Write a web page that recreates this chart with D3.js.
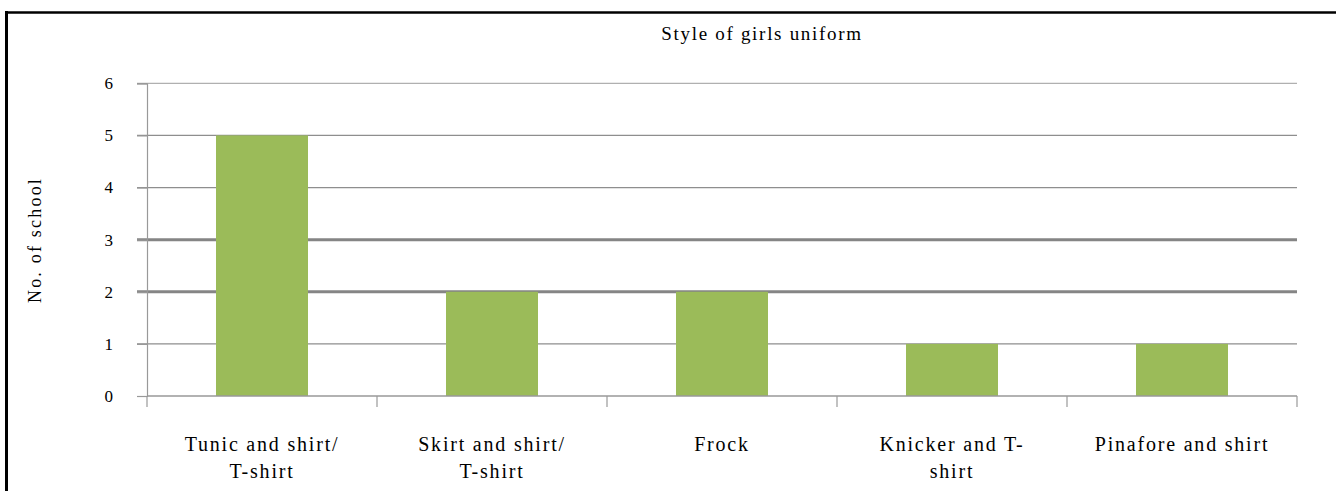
<!DOCTYPE html>
<html>
<head>
<meta charset="utf-8">
<script src="https://cdn.jsdelivr.net/npm/d3@7"></script>
<style>
  html, body { margin: 0; padding: 0; background: #fff; }
  svg { display: block; }
</style>
</head>
<body>
<svg id="chart" width="1336" height="491"></svg>
<script>
(function () {
// ---- data ----
const categories = ["Tunic and shirt/ T-shirt", "Skirt and shirt/ T-shirt", "Frock", "Knicker and T-shirt", "Pinafore and shirt"];
const labelLines = [["Tunic and shirt/", "T-shirt"], ["Skirt and shirt/", "T-shirt"], ["Frock"], ["Knicker and T-", "shirt"], ["Pinafore and shirt"]];
const values = [5, 2, 2, 1, 1];
const yTicks = [0, 1, 2, 3, 4, 5, 6];
const title = "Style of girls uniform";
const yTitle = "No. of school";

// ---- layout ----
const FONT = "'Liberation Serif', 'Times New Roman', serif";
const svg = d3.select("#chart");
const mLeft = 147, mRight = 1297, mTop = 83.3, mBottom = 396;

const x = d3.scaleBand().domain(categories).range([mLeft, mRight]).paddingInner(0.6).paddingOuter(0.3);
const y = d3.scaleLinear().domain([0, 6]).range([mBottom, mTop]);

// frame (top and left edges visible)
svg.append("line").attr("x1", 5).attr("x2", 1336).attr("y1", 12.5).attr("y2", 12.5)
  .attr("stroke", "#000").attr("stroke-width", 2.5);
svg.append("line").attr("x1", 6.5).attr("x2", 6.5).attr("y1", 11).attr("y2", 491)
  .attr("stroke", "#000").attr("stroke-width", 3);

// gridlines
svg.append("g").selectAll("line").data(yTicks.filter(d => d > 0)).join("line")
  .attr("x1", mLeft - 10).attr("x2", mRight)
  .attr("y1", d => y(d)).attr("y2", d => y(d))
  .attr("stroke", d => (d === 2 || d === 3) ? "#858585" : (d === 6 ? "#b0b0b0" : "#8e8e8e"))
  .attr("stroke-width", d => (d === 2 || d === 3) ? 3 : 1.3);

// y axis
const yAxis = svg.append("g").attr("transform", `translate(${mLeft},0)`)
  .call(d3.axisLeft(y).tickValues(yTicks).tickSize(10).tickPadding(24).tickFormat(d3.format("d")));
yAxis.attr("font-family", null).attr("font-size", null);
yAxis.select(".domain").attr("stroke", "#999").attr("stroke-width", 1.2);
yAxis.selectAll(".tick line").attr("stroke", "#999").attr("stroke-width", 1.2);
yAxis.selectAll(".tick text")
  .style("font-family", FONT).style("font-size", "17px").attr("fill", "#000");

// bars
svg.append("g").selectAll("rect").data(values).join("rect")
  .attr("x", (d, i) => x(categories[i]))
  .attr("width", x.bandwidth())
  .attr("y", d => y(d))
  .attr("height", d => y(0) - y(d))
  .attr("fill", "#9BBB59");

// x axis
svg.append("line").attr("x1", mLeft).attr("x2", mRight).attr("y1", mBottom).attr("y2", mBottom)
  .attr("stroke", "#999").attr("stroke-width", 1.3);
const step = x.step();
const boundaries = d3.range(categories.length + 1).map(i => mLeft + i * step);
svg.append("g").selectAll("line").data(boundaries).join("line")
  .attr("x1", d => d).attr("x2", d => d).attr("y1", mBottom).attr("y2", mBottom + 11)
  .attr("stroke", "#999").attr("stroke-width", 1.2);

// category labels
const lab = svg.append("g").selectAll("text").data(categories).join("text")
  .attr("text-anchor", "middle")
  .style("font-family", FONT).style("font-size", "20px").style("letter-spacing", "1.8px")
  .attr("fill", "#000")
  .attr("x", d => x(d) + x.bandwidth() / 2)
  .attr("y", 451);
lab.each(function (d, i) {
  const t = d3.select(this);
  labelLines[i].forEach((line, j) => {
    t.append("tspan").attr("x", x(d) + x.bandwidth() / 2).attr("dy", j === 0 ? 0 : 27).text(line);
  });
});

// title
svg.append("text").attr("x", 762).attr("y", 40).attr("text-anchor", "middle")
  .style("font-family", FONT).style("font-size", "19px").style("letter-spacing", "1.7px")
  .attr("fill", "#000").text(title);

// y title
svg.append("text").attr("transform", "translate(41,240) rotate(-90)")
  .attr("text-anchor", "middle")
  .style("font-family", FONT).style("font-size", "18px").style("letter-spacing", "2.2px")
  .attr("fill", "#000").text(yTitle);
})();
</script>
</body>
</html>
